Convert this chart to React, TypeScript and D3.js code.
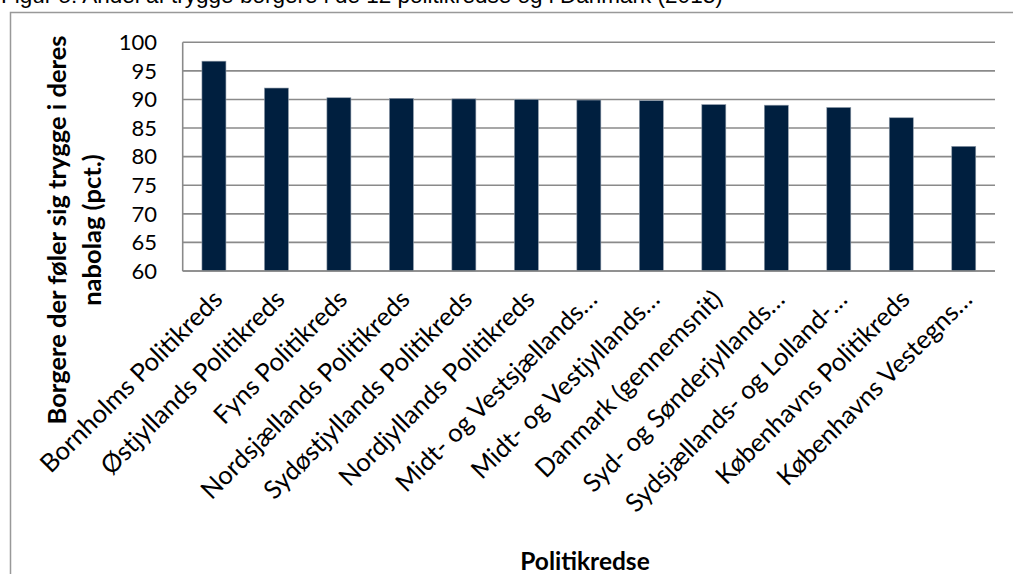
import React from "react";
import * as d3 from "d3";

const categories = [
  "Bornholms Politikreds",
  "Østjyllands Politikreds",
  "Fyns Politikreds",
  "Nordsjællands Politikreds",
  "Sydøstjyllands Politikreds",
  "Nordjyllands Politikreds",
  "Midt- og Vestsjællands…",
  "Midt- og Vestjyllands…",
  "Danmark (gennemsnit)",
  "Syd- og Sønderjyllands…",
  "Sydsjællands- og Lolland-…",
  "Københavns Politikreds",
  "Københavns Vestegns…",
];
const values = [96.7, 92.0, 90.3, 90.2, 90.1, 90.0, 89.9, 89.8, 89.1, 89.0, 88.6, 86.8, 81.8];
const yTicks = [60, 65, 70, 75, 80, 85, 90, 95, 100];
const title = "Figur 5: Andel af trygge borgere i de 12 politikredse og i Danmark (2013)";
const yTitle = ["Borgere der føler sig trygge i deres", "nabolag (pct.)"];
const xTitle = "Politikredse";

const W = 1013;
const H = 574;
const plot = { left: 182.7, right: 995, top: 42.3, bottom: 271 };
const FONT = "Lato, 'Open Sans', sans-serif";

export default function App() {
  const x = d3
    .scaleBand<string>()
    .domain(categories)
    .range([plot.left, plot.right])
    .paddingInner(0.616)
    .paddingOuter(0.308);
  const y = d3.scaleLinear().domain([60, 100]).range([plot.bottom, plot.top]);
  const grid = "#8a8a8a";

  return (
    <svg
      width={W}
      height={H}
      style={{ position: "absolute", left: 0, top: 0, background: "#fff" }}
    >
      <text
        x={1}
        y={3}
        fontFamily="'Liberation Sans', Arial, sans-serif"
        fontSize={22.5}
        fill="#000"
      >
        {title}
      </text>
      <rect
        x={10.5}
        y={12.5}
        width={W + 20}
        height={H + 20}
        fill="#fff"
        stroke="#999"
        strokeWidth={1.5}
      />
      {yTicks.map((t) => (
        <g key={t}>
          <line
            x1={plot.left}
            x2={plot.right}
            y1={y(t)}
            y2={y(t)}
            stroke={grid}
            strokeWidth={1.6}
          />
          <text
            x={157}
            y={y(t)}
            dy="0.35em"
            textAnchor="end"
            fontFamily={FONT}
            fontSize={22}
            fill="#000"
          >
            {t}
          </text>
        </g>
      ))}
      <line
        x1={plot.left}
        x2={plot.left}
        y1={plot.top}
        y2={plot.bottom}
        stroke={grid}
        strokeWidth={1.6}
      />
      {categories.map((c, i) => (
        <rect
          key={c}
          x={x(c)!}
          y={y(values[i])}
          width={x.bandwidth()}
          height={plot.bottom - y(values[i])}
          fill="#001f3f"
          stroke="#8e9aa8"
          strokeWidth={0.6}
        />
      ))}
      <line
        x1={plot.left}
        x2={plot.right}
        y1={plot.bottom}
        y2={plot.bottom}
        stroke={grid}
        strokeWidth={1.6}
      />
      {categories.map((c) => {
        const cx = x(c)! + x.bandwidth() / 2 + 10;
        const cy = 301;
        return (
          <text
            key={c}
            x={cx}
            y={cy}
            textAnchor="end"
            transform={`rotate(-45 ${cx} ${cy})`}
            fontFamily={FONT}
            fontSize={25.5}
            fill="#000"
          >
            {c}
          </text>
        );
      })}
      {yTitle.map((line, i) => (
        <text
          key={i}
          transform={`translate(${66 + i * 35}, 230) rotate(-90)`}
          textAnchor="middle"
          fontFamily={FONT}
          fontWeight="bold"
          fontSize={25.5}
          fill="#000"
        >
          {line}
        </text>
      ))}
      <text
        x={585}
        y={570}
        textAnchor="middle"
        fontFamily={FONT}
        fontWeight="bold"
        fontSize={24.5}
        fill="#000"
      >
        {xTitle}
      </text>
    </svg>
  );
}
